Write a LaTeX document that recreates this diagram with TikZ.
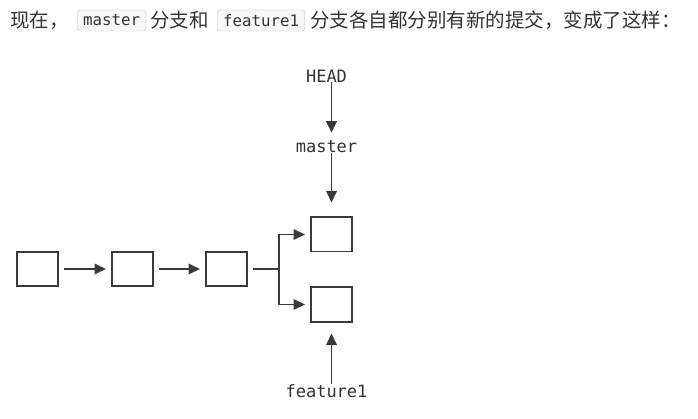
\documentclass[tikz,border=0pt]{standalone}
\usepackage{fontspec}
\newfontfamily\cjk{Noto Sans CJK SC}
\newfontfamily\mono{DejaVu Sans Mono}
\usetikzlibrary{arrows.meta,positioning}

\definecolor{ink}{HTML}{3A3A3A}
\definecolor{txt}{HTML}{333333}
\definecolor{codebg}{HTML}{F8F8F8}
\definecolor{codeline}{HTML}{C8C8C8}

\tikzset{
  commit/.style={draw=ink,line width=1.9pt,minimum width=41.1pt,minimum height=34.1pt,inner sep=0pt},
  ref/.style={font=\mono\fontsize{17}{17}\selectfont,text=txt,inner sep=0pt},
  link/.style={draw=ink,line width=1.9pt,-{Triangle[length=11.5pt,width=10.5pt]}},
  words/.style={font=\cjk\fontsize{19.5}{20}\selectfont,text=txt,inner sep=0pt,anchor=west},
  code/.style={font=\mono\fontsize{15.8}{16}\selectfont,text=txt,draw=codeline,fill=codebg,rounded corners=3pt,inner xsep=5.8pt,inner ysep=0pt,minimum height=21pt,anchor=west}
}

\begin{document}
\begin{tikzpicture}[x=1pt,y=-1pt]
\useasboundingbox (0,0) rectangle (698,419);
% the sentence on top
\node[words](now) at (10,20.5) {现在，};
\node[code](mastercode) at (77,20.5) {master};
\node[words](and) at (150,20.5) {分支和};
\node[code](featurecode) at (217,20.5) {feature1};
\node[words](rest) at (310,20.5) {分支各自都分别有新的提交，变成了这样：};
% commits
\node[commit](c1) at (37.5,269) {};
\node[commit](c2) at (132.5,269) {};
\node[commit](c3) at (226.5,269) {};
\node[commit](c4) at (331.5,234.5) {};
\node[commit](c5) at (331.5,304.5) {};
\coordinate (fork) at (279,269);
% pointers
\node[ref](head) at (326.5,76) {HEAD};
\node[ref](master) at (326.5,147) {master};
\node[ref](feature) at (326.5,391) {feature1};
\draw[link,shorten <=5pt,shorten >=5pt] (c1) -- (c2);
\draw[link,shorten <=5pt,shorten >=5pt] (c2) -- (c3);
\draw[draw=ink,line width=1.9pt,shorten <=5pt] (c3) -- (fork);
\draw[link,shorten >=5pt] (fork) |- (c4);
\draw[link,shorten >=5pt] (fork) |- (c5);
\draw[link,shorten >=8pt] (c4 |- head.south) -- (c4 |- master.north);
\draw[link,shorten >=14pt] (c4 |- master.south) -- (c4.north);
\draw[link,shorten >=11pt] (c5 |- feature.north) -- (c5.south);
\end{tikzpicture}
\end{document}
